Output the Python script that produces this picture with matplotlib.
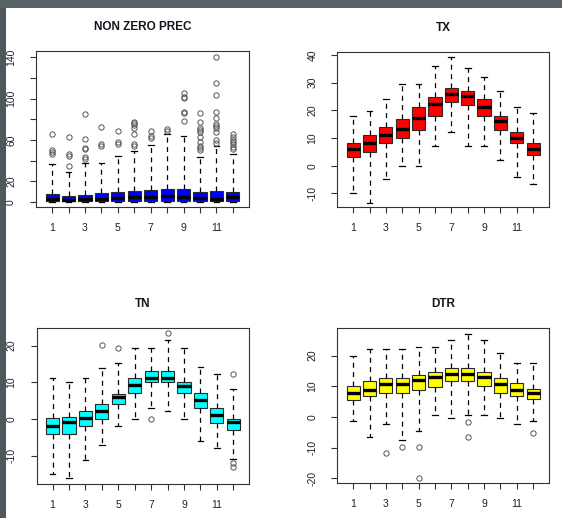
import numpy as np
import matplotlib
matplotlib.use("Agg")
import matplotlib.pyplot as plt
from matplotlib.patches import Rectangle

plt.rcParams['font.family'] = ['Liberation Sans', 'DejaVu Sans']

months = list(range(1, 13))
month_labels = [str(m) if m % 2 == 1 else '' for m in months]

# NON ZERO PREC
prec_lo = [0.1, 0.1, 0.1, 0.1, 0.1, 0.1, 0.1, 0.1, 0.1, 0.1, 0.1, 0.1]
prec_q1 = [0.8, 0.6, 0.6, 0.8, 0.8, 1.0, 1.0, 1.0, 1.0, 0.8, 0.8, 0.8]
prec_med = [3.0, 2.2, 2.5, 3.2, 3.9, 5.0, 5.0, 5.8, 5.0, 3.5, 3.2, 4.5]
prec_q3 = [7.7, 5.8, 6.8, 8.7, 9.4, 10.3, 11.6, 12.6, 12.6, 9.4, 10.3, 9.4]
prec_hi = [36.5, 29.4, 37.4, 38.0, 44.8, 49.7, 55.2, 65.5, 63.9, 43.5, 54.5, 46.5]
prec_fliers = [
    [65.5, 50.3, 48.7, 46.5],
    [62.6, 46.1, 44.8, 35.2],
    [85.2, 61.0, 52.6, 51.3, 43.9, 41.3],
    [72.3, 55.8, 54.5],
    [69.0, 58.4, 56.1],
    [77.7, 76.1, 74.5, 71.3, 65.5, 56.1, 54.5],
    [69.0, 64.2, 62.3],
    [70.6, 69.0],
    [105.8, 101.9, 100.3, 87.4, 85.8, 78.7],
    [86.5, 77.1, 71.9, 69.7, 68.1, 63.2, 58.4, 54.5, 52.6, 50.3],
    [140.0, 114.8, 103.5, 86.8, 81.0, 75.5, 73.5, 71.3, 68.1, 60.0, 56.8],
    [65.5, 62.6, 60.0, 57.7, 55.8, 53.5, 51.3],
]

# TX
tx_lo = [-10.0, -13.3, -4.8, 0.0, 0.0, 7.1, 12.3, 7.1, 7.1, 2.0, -4.0, -6.7]
tx_q1 = [3.0, 5.1, 8.1, 10.1, 13.1, 18.1, 22.9, 21.9, 18.1, 13.1, 8.1, 3.9]
tx_med = [6.1, 8.1, 11.1, 13.3, 17.1, 22.2, 26.1, 25.3, 21.3, 16.1, 10.1, 6.0]
tx_q3 = [8.1, 11.1, 14.1, 16.9, 21.1, 24.9, 28.0, 27.1, 24.1, 18.1, 12.3, 8.1]
tx_hi = [18.1, 19.9, 24.1, 29.4, 29.4, 36.0, 39.2, 35.2, 32.2, 27.1, 21.1, 19.2]
tx_fliers = [[] for _ in months]

# TN
tn_lo = [-15.0, -16.0, -11.2, -7.1, -1.8, 0.0, 3.1, 2.2, 0.0, -5.9, -8.0, -11.0]
tn_q1 = [-4.1, -4.1, -1.9, 0.0, 4.1, 7.0, 10.0, 10.0, 7.0, 2.9, -1.2, -3.0]
tn_med = [-1.9, -0.9, 0.2, 2.1, 6.1, 9.3, 11.3, 11.3, 9.1, 5.2, 1.1, -0.9]
tn_q3 = [0.2, 0.6, 2.2, 4.1, 6.9, 11.1, 13.2, 13.2, 10.2, 7.0, 2.9, 0.0]
tn_hi = [11.1, 10.2, 11.1, 14.0, 15.4, 19.5, 19.5, 21.5, 19.5, 14.1, 12.2, 8.2]
tn_fliers = [[], [], [], [20.2], [19.3], [], [0.0], [23.4], [], [], [],
             [12.2, -12.0, -13.0]]

# DTR
dtr_lo = [-1.3, -6.5, -2.3, -7.5, -4.6, 0.7, -0.2, 0.7, 0.7, -0.2, -2.3, -1.3]
dtr_q1 = [5.5, 6.8, 7.7, 7.7, 8.8, 9.9, 11.7, 11.7, 10.1, 7.7, 6.8, 5.8]
dtr_med = [7.7, 8.8, 10.8, 10.8, 12.1, 12.9, 13.9, 13.9, 12.9, 10.8, 8.8, 7.7]
dtr_q3 = [10.1, 11.7, 12.6, 12.6, 13.7, 14.8, 15.9, 15.9, 14.8, 12.6, 11.0, 9.0]
dtr_hi = [20.0, 22.1, 22.1, 22.1, 22.9, 22.9, 25.1, 27.1, 25.1, 20.8, 17.7, 17.7]
dtr_fliers = [[], [], [-11.6], [-9.7], [-9.7, -20.0], [], [], [-1.5, -6.4],
              [], [], [], [-5.3]]


def make_stats(lo, q1, med, q3, hi, fliers):
    return [dict(whislo=a, q1=b, med=c, q3=d, whishi=e, fliers=f)
            for a, b, c, d, e, f in zip(lo, q1, med, q3, hi, fliers)]


fig = plt.figure(figsize=(5.62, 5.18), dpi=100)
fig.patch.set_facecolor('white')

# dark slide border on the left and top
fig.patches.append(Rectangle((0, 0), 6 / 562, 1, transform=fig.transFigure,
                             facecolor='#4e585b', edgecolor='none', zorder=0))
fig.patches.append(Rectangle((0, 1 - 8 / 518), 1, 8 / 518, transform=fig.transFigure,
                             facecolor='#5a6467', edgecolor='none', zorder=0))

panels = [
    ("NON ZERO PREC", make_stats(prec_lo, prec_q1, prec_med, prec_q3, prec_hi, prec_fliers),
     '#0000ff', (-4.8, 146), [0, 20, 40, 60, 80, 100, 120, 140],
     ['0', '20', '', '60', '', '100', '', '140'], [0.064, 0.6004, 0.379, 0.301]),
    ("TX", make_stats(tx_lo, tx_q1, tx_med, tx_q3, tx_hi, tx_fliers),
     '#ff0000', (-15.0, 41.2), [-10, 0, 10, 20, 30, 40],
     ['-10', '0', '10', '20', '30', '40'], [0.600, 0.5998, 0.377, 0.3004]),
    ("TN", make_stats(tn_lo, tn_q1, tn_med, tn_q3, tn_hi, tn_fliers),
     '#00ffff', (-17.7, 24.9), [-10, 0, 10, 20],
     ['-10', '0', '10', '20'], [0.065, 0.0656, 0.3786, 0.3018]),
    ("DTR", make_stats(dtr_lo, dtr_q1, dtr_med, dtr_q3, dtr_hi, dtr_fliers),
     '#ffff00', (-21.6, 29.1), [-20, -10, 0, 10, 20],
     ['-20', '-10', '0', '10', '20'], [0.600, 0.067, 0.377, 0.3004]),
]

for title, stats, color, ylim, yticks, ylabels, rect in panels:
    ax = fig.add_axes(rect)
    ax.bxp(stats, positions=months, widths=0.8, patch_artist=True,
           boxprops=dict(facecolor=color, edgecolor='#2a2a2a', linewidth=0.8),
           medianprops=dict(color='black', linewidth=2.4, solid_capstyle='butt'),
           whiskerprops=dict(color='black', linewidth=0.9, linestyle=(0, (4, 3.5))),
           capprops=dict(color='black', linewidth=0.9),
           capwidths=0.35,
           flierprops=dict(marker='o', markerfacecolor='none',
                           markeredgecolor='#555555', markersize=3.8,
                           markeredgewidth=0.7))
    ax.set_xlim(0.02, 12.98)
    ax.set_ylim(*ylim)
    ax.set_xticks(months)
    ax.set_xticklabels(month_labels)
    ax.set_yticks(yticks)
    ax.set_yticklabels(ylabels, rotation=90, va='center')
    ax.tick_params(axis='both', length=4.3, width=0.8, color='#333333',
                   labelsize=7.5, labelcolor='#202030')
    ax.tick_params(axis='x', pad=7)
    ax.tick_params(axis='y', pad=10)
    for sp in ax.spines.values():
        sp.set_linewidth(0.8)
        sp.set_color('#333333')
    ax.set_title(title, fontsize=8.5, fontweight='bold', pad=15, color='#151520')

fig.savefig('out.png', dpi=100)
